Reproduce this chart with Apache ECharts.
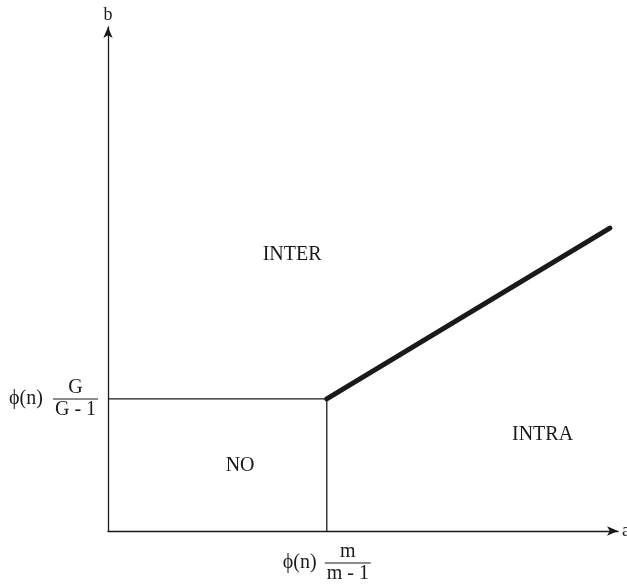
<!DOCTYPE html>
<html><head><meta charset="utf-8">
<script src="https://cdn.jsdelivr.net/npm/echarts@6/dist/echarts.min.js"></script>
<style>html,body{margin:0;padding:0;background:#fff}#c{width:627px;height:586px}</style>
</head><body><div id="c"></div>
<script>
// data (axis units 0..100)
const xThreshold = 42.9;          // ϕ(n) m/(m-1)
const yThreshold = 26.2;          // ϕ(n) G/(G-1)
const boundaryH = [[0, yThreshold], [xThreshold, yThreshold]];
const boundaryV = [[xThreshold, 0], [xThreshold, yThreshold]];
const boundaryDiag = [[xThreshold, yThreshold], [98.4, 60.1]];
const regionNames = ['INTER', 'NO', 'INTRA'];
const regionPos = [[36.1, 54.8], [25.9, 12.9], [85.2, 19.0]];
const xTickLabel = { phi: 'ϕ(n)', num: 'm', den: 'm - 1' };
const yTickLabel = { phi: 'ϕ(n)', num: 'G', den: 'G - 1' };
const xAxisName = 'a', yAxisName = 'b';

const FONT = '"Liberation Serif","DejaVu Serif",serif';
const C = '#1a1a1a';
function fracRich(phiW, barW) {
  return {
    sp: { width: phiW, height: 18, lineHeight: 18 },
    num: { width: barW, align: 'center', fontSize: 20, fontFamily: FONT, color: C, lineHeight: 18 },
    den: { width: barW, align: 'center', fontSize: 20, fontFamily: FONT, color: C, lineHeight: 18 },
    phi: { width: phiW, fontSize: 20, fontFamily: FONT, color: C, lineHeight: 4, align: 'left' },
    bar: { width: barW, height: 1, lineHeight: 4, backgroundColor: C }
  };
}
function fracText(t) {
  return '{sp|}{num|' + t.num + '}\n{phi|' + t.phi + '}{bar|}\n{sp|}{den|' + t.den + '}';
}
const chart = echarts.init(document.getElementById('c'), null, { renderer: 'canvas' });
const axisLine = { show: true, lineStyle: { color: C, width: 1.3 }, symbol: ['none', 'arrow'], symbolSize: [7, 11] };
chart.setOption({
  animation: false,
  grid: { left: 108, right: 9, top: 27, bottom: 55, containLabel: false, outerBoundsMode: 'none' },
  xAxis: {
    type: 'value', min: 0, max: 100,
    name: xAxisName, nameLocation: 'end', nameGap: 4,
    nameTextStyle: { fontFamily: FONT, fontSize: 18, color: C, verticalAlign: 'middle' },
    axisLine: axisLine, axisTick: { show: false }, splitLine: { show: false },
    axisLabel: {
      show: true, customValues: [xThreshold], margin: 12,
      formatter: () => fracText(xTickLabel), rich: fracRich(42, 46)
    }
  },
  yAxis: {
    type: 'value', min: 0, max: 100,
    name: yAxisName, nameLocation: 'end', nameGap: 3,
    nameTextStyle: { fontFamily: FONT, fontSize: 18, color: C, align: 'center' },
    axisLine: axisLine, axisTick: { show: false }, splitLine: { show: false },
    axisLabel: {
      show: true, customValues: [yThreshold], margin: 10,
      formatter: () => fracText(yTickLabel), rich: fracRich(44, 45)
    }
  },
  series: [
    { type: 'line', data: boundaryH, symbol: 'none', lineStyle: { color: C, width: 1.3 } },
    { type: 'line', data: boundaryV, symbol: 'none', lineStyle: { color: C, width: 1.3 } },
    { type: 'line', data: boundaryDiag, symbol: 'none', lineStyle: { color: C, width: 5, cap: 'round' } },
    {
      type: 'scatter', symbolSize: 0, silent: true, itemStyle: { opacity: 1 },
      data: regionNames.map((n, i) => ({ value: regionPos[i], name: n })),
      label: { show: true, position: 'inside', formatter: p => p.name, fontFamily: FONT, fontSize: 20,
               color: C, opacity: 1, textBorderWidth: 0 }
    }
  ]
});
</script></body></html>
